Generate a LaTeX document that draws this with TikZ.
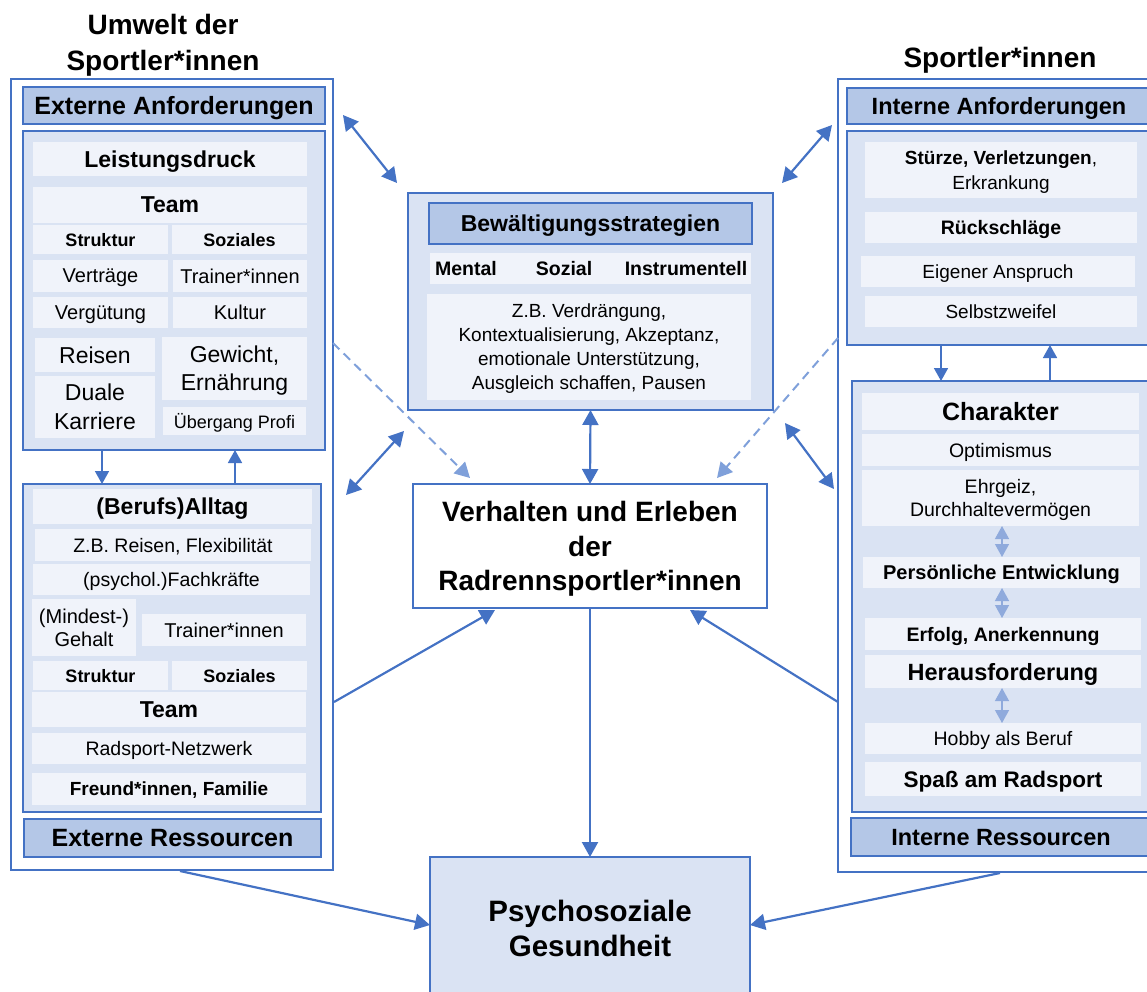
\documentclass[tikz,border=0pt]{standalone}
\usepackage{fontspec}
\setmainfont{Liberation Sans}
\usetikzlibrary{arrows.meta}
\definecolor{bl}{HTML}{4472C4}
\definecolor{lb}{HTML}{DAE3F3}
\definecolor{rw}{HTML}{F0F3FA}
\definecolor{hd}{HTML}{B4C7E7}
\definecolor{lt}{HTML}{8FAADC}
\definecolor{dsh}{HTML}{7FA0DA}
\newcommand\fz[2]{\fontsize{#1pt}{#2pt}\selectfont}
\newcommand\bx[7]{\node[#2, minimum width={(#5-#3)*1pt}, minimum height={(#6-#4)*1pt}] (#1) at ({(#3+#5)/2},{(#4+#6)/2}) {#7};}
\tikzset{
  mytip/.tip={Triangle[width=16pt,length=15pt]},
  smalltip/.tip={Triangle[width=14pt,length=13pt]},
  base/.style={inner sep=0pt, outer sep=0pt, align=center, anchor=center, text depth=0pt},
  outerbox/.style={base, draw=bl, line width=2pt, fill=white},
  innerbox/.style={base, draw=bl, line width=2pt, fill=lb},
  hdr/.style={base, draw=bl, line width=2pt, fill=hd},
  row/.style={base, fill=rw},
  title/.style={base, font=\bfseries\fz{28}{36}},
  conn2/.style={draw=bl, line width=2.2pt, mytip-mytip},
  conn1/.style={draw=bl, line width=2.2pt, -mytip},
  dconn/.style={draw=dsh, line width=2pt, dash pattern=on 9pt off 6pt, -mytip},
  sconn/.style={draw=bl, line width=1.6pt, -smalltip},
  lconn/.style={draw=lt, line width=1.3pt, smalltip-smalltip},
}
\begin{document}
\begin{tikzpicture}[x=1pt,y=-1pt]
\useasboundingbox (0,0) rectangle (1147,991);

% titles
\node[title] (tl) at (163,42) {Umwelt der\\Sportler*innen};
\node[title] (tr) at (1000,57) {Sportler*innen};

% ---------------- left column ----------------
\bx{lo}{outerbox}{11}{79}{333}{870}{}
\bx{extanf}{hdr, font=\bfseries\fz{25}{30}}{23}{87}{325}{124}{Externe Anforderungen}
\bx{li1}{innerbox}{23}{131}{325}{450}{}
\bx{leist}{row, font=\bfseries\fz{23}{28}}{33}{142}{307}{176}{Leistungsdruck}
\bx{team1}{row, font=\bfseries\fz{23}{28}}{33}{187}{307}{223}{Team}
\bx{str1}{row, font=\bfseries\fz{18}{22}}{33}{225}{168}{254}{Struktur}
\bx{soz1}{row, font=\bfseries\fz{18}{22}}{172}{225}{307}{254}{Soziales}
\bx{vertr}{row, font=\fz{20}{24}}{33}{260}{168}{292}{Verträge}
\bx{train1}{row, font=\fz{20}{24}}{173}{260}{307}{292}{Trainer*innen}
\bx{verg}{row, font=\fz{20}{24}}{33}{297}{168}{328}{Vergütung}
\bx{kult}{row, font=\fz{20}{24}}{173}{297}{307}{328}{Kultur}
\bx{reis}{row, font=\fz{23}{29}}{35}{338}{155}{372}{Reisen}
\bx{dual}{row, font=\fz{23}{29}}{35}{376}{155}{438}{Duale\\Karriere}
\bx{gew}{row, font=\fz{23}{28}}{162}{337}{307}{400}{Gewicht,\\Ernährung}
\bx{ueb}{row, font=\fz{18}{22}}{163}{407}{306}{435}{Übergang Profi}

\bx{li2}{innerbox}{23}{484}{321}{812}{}
\bx{alltag}{row, font=\bfseries\fz{23}{28}}{33}{489}{312}{524}{(Berufs)Alltag}
\bx{zbr}{row, font=\fz{19.5}{24}}{35}{529}{311}{561}{Z.B. Reisen, Flexibilität}
\bx{fach}{row, font=\fz{19.5}{24}}{33}{564}{310}{595}{(psychol.)Fachkräfte}
\bx{geh}{row, font=\fz{20}{23}}{32}{599}{136}{656}{(Mindest-)\\Gehalt}
\bx{train2}{row, font=\fz{20}{24}}{142}{614}{306}{646}{Trainer*innen}
\bx{str2}{row, font=\bfseries\fz{18}{22}}{33}{661}{168}{690}{Struktur}
\bx{soz2}{row, font=\bfseries\fz{18}{22}}{172}{661}{307}{690}{Soziales}
\bx{team2}{row, font=\bfseries\fz{23}{28}}{32}{692}{306}{727}{Team}
\bx{netz}{row, font=\fz{19.5}{24}}{32}{733}{306}{764}{Radsport-Netzwerk}
\bx{fam}{row, font=\bfseries\fz{19}{23}}{32}{773}{306}{805}{Freund*innen, Familie}
\bx{extres}{hdr, font=\bfseries\fz{25}{30}}{24}{819}{321}{857}{Externe Ressourcen}

% ---------------- right column ----------------
\bx{ro}{outerbox}{838}{79}{1160}{872}{}
\bx{intanf}{hdr, font=\bfseries\fz{23.5}{28}}{847}{88}{1151}{124}{Interne Anforderungen}
\bx{ri1}{innerbox}{847}{131}{1151}{345}{}
\bx{stu}{row, font=\fz{19}{25}}{865}{142}{1137}{198}{\textbf{Stürze, Verletzungen},\\Erkrankung}
\bx{rueck}{row, font=\bfseries\fz{19.5}{24}}{865}{212}{1137}{243}{Rückschläge}
\bx{eig}{row, font=\fz{19}{23}}{861}{256}{1135}{287}{Eigener Anspruch}
\bx{selb}{row, font=\fz{19}{23}}{865}{296}{1137}{327}{Selbstzweifel}

\bx{ri2}{innerbox}{852}{381}{1151}{812}{}
\bx{char}{row, font=\bfseries\fz{25}{30}}{862}{393}{1139}{430}{Charakter}
\bx{opt}{row, font=\fz{19.5}{24}}{862}{434}{1139}{466}{Optimismus}
\bx{ehr}{row, font=\fz{19.5}{23}}{862}{470}{1139}{526}{Ehrgeiz,\\Durchhaltevermögen}
\bx{pers}{row, font=\bfseries\fz{20}{24}}{863}{557}{1140}{588}{Persönliche Entwicklung}
\bx{erf}{row, font=\bfseries\fz{19.5}{24}}{865}{618}{1141}{650}{Erfolg, Anerkennung}
\bx{her}{row, font=\bfseries\fz{23.5}{28}}{865}{655}{1141}{688}{Herausforderung}
\bx{hob}{row, font=\fz{19.5}{24}}{865}{723}{1141}{754}{Hobby als Beruf}
\bx{spass}{row, font=\bfseries\fz{22.5}{27}}{865}{762}{1141}{796}{Spaß am Radsport}
\bx{intres}{hdr, font=\bfseries\fz{23.5}{28}}{851}{818}{1151}{856}{Interne Ressourcen}

% ---------------- centre ----------------
\bx{bew}{innerbox}{408}{193}{773}{410}{}
\bx{bewh}{hdr, font=\bfseries\fz{23}{28}}{429}{203}{752}{244}{Bewältigungsstrategien}
\bx{bewr}{row}{430}{253}{751}{284}{}
\node[base, font=\bfseries\fz{19.5}{24}] (mental) at (466,268.5) {Mental};
\node[base, font=\bfseries\fz{19.5}{24}] (sozial) at (564,268.5) {Sozial};
\node[base, font=\bfseries\fz{19.5}{24}] (instr) at (686,268.5) {Instrumentell};
\bx{zbv}{row, font=\fz{19}{24}}{427}{294}{751}{400}{Z.B. Verdrängung,\\Kontextualisierung, Akzeptanz,\\emotionale Unterstützung,\\Ausgleich schaffen, Pausen}

\bx{verh}{outerbox, font=\bfseries\fz{28}{34.5}}{413}{484}{767}{608}{Verhalten und Erleben\\der\\Radrennsportler*innen}
\bx{psych}{innerbox, font=\bfseries\fz{29.5}{35}}{430}{857}{750}{1000}{Psychosoziale\\Gesundheit}

% ---------------- connectors ----------------
\coordinate (p1) at (343,115); \coordinate (p2) at (397,183);
\coordinate (p3) at (782,183); \coordinate (p4) at (832,125);
\coordinate (p5) at (404,431); \coordinate (p6) at (346,495);
\coordinate (p7) at (785,423); \coordinate (p8) at (834,489);
\coordinate (q1) at (333,343); \coordinate (q2) at (470,478);
\coordinate (q3) at (838,338); \coordinate (q4) at (717,478);
\coordinate (r1) at (334,702); \coordinate (r2) at (495,610);
\coordinate (r3) at (838,702); \coordinate (r4) at (690,610);
\coordinate (s1) at (180,871); \coordinate (s2) at (430,925);
\coordinate (s3) at (1000,873); \coordinate (s4) at (750,925);

\draw[conn2] (p1) -- (p2);
\draw[conn2] (p3) -- (p4);
\draw[conn2] (p5) -- (p6);
\draw[conn2] (p7) -- (p8);
\draw[dconn] (q1) -- (q2);
\draw[dconn] (q3) -- (q4);
\draw[conn2] (bew.south) -- (verh.north);
\draw[conn1] (verh.south) -- (psych.north);
\draw[conn1] (r1) -- (r2);
\draw[conn1] (r3) -- (r4);
\draw[conn1] (s1) -- (s2);
\draw[conn1] (s3) -- (s4);

% small arrows between inner boxes
\draw[sconn] ([xshift=-72pt]li1.south) -- ([xshift=-70pt]li2.north);
\draw[sconn] ([xshift=63pt]li2.north) -- ([xshift=61pt]li1.south);
\draw[sconn] ([xshift=-58pt]ri1.south) -- ([xshift=-60.5pt]ri2.north);
\draw[sconn] ([xshift=48.5pt]ri2.north) -- ([xshift=51pt]ri1.south);

% light double arrows in right box
\draw[lconn] ([xshift=1.5pt]ehr.south) -- ([xshift=0.5pt]pers.north);
\draw[lconn] ([xshift=0.5pt]pers.south) -- ([xshift=-1pt]erf.north);
\draw[lconn] ([xshift=-1pt]her.south) -- ([xshift=-1pt]hob.north);
\end{tikzpicture}
\end{document}
